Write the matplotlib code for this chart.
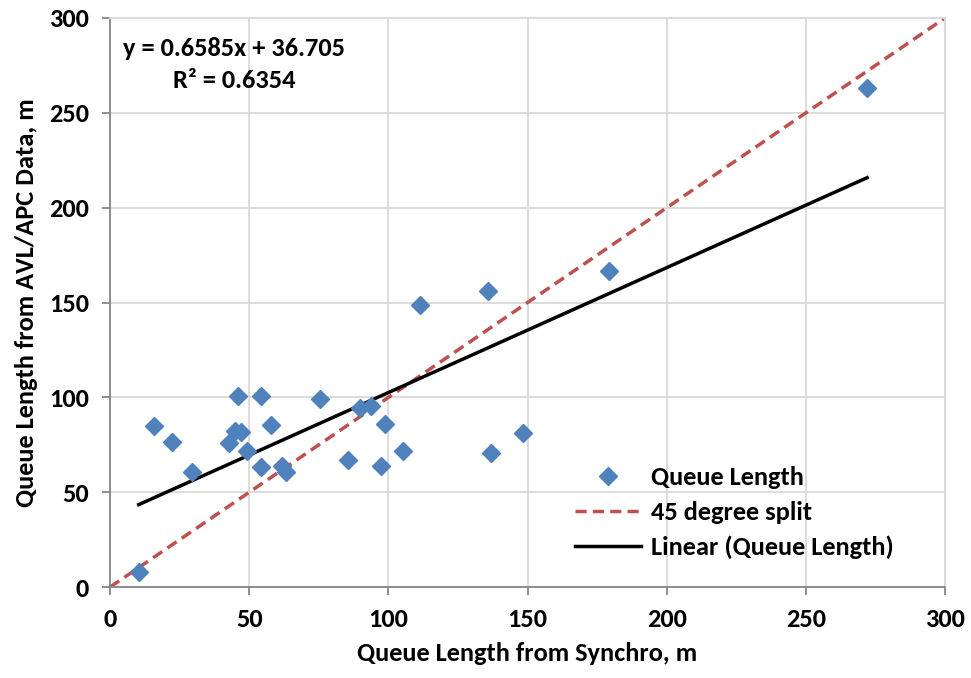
import numpy as np
import matplotlib.pyplot as plt

# Queue length from Synchro (x) vs AVL/APC data (y), metres
synchro = [10.3, 15.7, 22.1, 29.6, 42.7, 44.8, 47.1, 46.0, 49.3, 54.3,
           57.9, 54.3, 61.9, 63.2, 75.4, 85.5, 89.8, 93.6, 98.7, 97.2,
           105.3, 111.5, 135.8, 179.1, 136.7, 148.3, 272.0]
avl_apc = [8.1, 85.0, 76.5, 60.6, 75.8, 82.3, 82.0, 100.5, 71.7, 100.5,
           85.3, 63.5, 63.8, 60.6, 99.1, 67.0, 94.2, 95.6, 85.9, 64.1,
           71.6, 148.5, 156.1, 166.7, 70.5, 81.1, 263.3]

# linear trend line as reported on the chart
slope = 0.6585
intercept = 36.705
r2 = 0.6354

split_x = [0, 300]

plt.rcParams['font.family'] = ['Carlito', 'DejaVu Sans']
plt.rcParams['font.weight'] = 'bold'
fs = 19

fig = plt.figure(figsize=(9.71, 6.78), dpi=100)
ax = fig.add_axes([0.1133, 0.134, 0.86, 0.8395])

ax.plot(synchro, avl_apc, linestyle='none', marker='D', markersize=9.5,
        color='#4F81BD', label='Queue Length', zorder=3)
ax.plot(split_x, split_x, linestyle=(0, (3.2, 1.8)), color='#C0504D',
        linewidth=2.5, label='45 degree split', zorder=2)
tx = np.array([min(synchro), max(synchro)])
ax.plot(tx, slope * tx + intercept, color='black', linewidth=2.5,
        label='Linear (Queue Length)', zorder=2)

ax.text(44.7, 275.4, f"y = {slope}x + {intercept}\nR² = {r2}", ha='center',
        va='center', fontsize=fs, fontweight='bold', linespacing=1.45)

ax.set_xlim(0, 300)
ax.set_ylim(0, 300)
ax.set_xticks(range(0, 301, 50))
ax.set_yticks(range(0, 301, 50))
ax.grid(True, color='#D9D9D9', linewidth=1.3)
ax.set_axisbelow(True)
for s in ['top', 'right']:
    ax.spines[s].set_color('#D9D9D9')
    ax.spines[s].set_linewidth(1.3)
for s in ['left', 'bottom']:
    ax.spines[s].set_color('#868686')
    ax.spines[s].set_linewidth(1.3)
ax.tick_params(direction='out', length=6, width=1.3, color='#868686',
               labelsize=fs, pad=9)

ax.set_xlabel('Queue Length from Synchro, m', fontsize=fs, fontweight='bold',
              labelpad=8)
ax.set_ylabel('Queue Length from AVL/APC Data, m', fontsize=fs,
              fontweight='bold', labelpad=8)

leg = ax.legend(loc='upper left', bbox_to_anchor=(0.557, 0.213), frameon=False,
                handlelength=2.5, handletextpad=0.38, labelspacing=0.45,
                borderpad=0, borderaxespad=0,
                prop={'weight': 'bold', 'size': fs})

fig.savefig('out.png', dpi=100)
